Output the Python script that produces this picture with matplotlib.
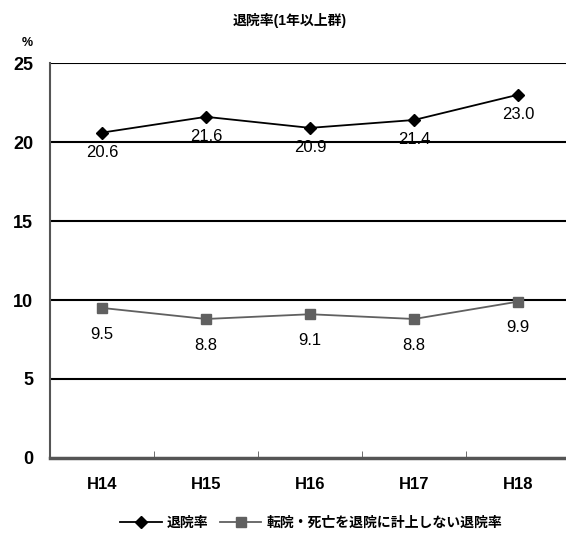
import matplotlib.pyplot as plt
from matplotlib.ticker import FixedLocator

plt.rcParams['font.family'] = ['Liberation Sans', 'Noto Sans CJK JP']

years = ['H14', 'H15', 'H16', 'H17', 'H18']
rate = [20.6, 21.6, 20.9, 21.4, 23.0]
rate_excl = [9.5, 8.8, 9.1, 8.8, 9.9]
yticks = [0, 5, 10, 15, 20, 25]

fig = plt.figure(figsize=(5.66, 5.35), dpi=100)
ax = fig.add_axes([0.0883, 0.144, 0.9117, 0.738])

xs = list(range(len(years)))
for y in yticks[1:]:
    ax.axhline(y, color='black', lw=1.5, zorder=1)

ax.plot(xs, rate, color='black', lw=1.3, marker='D', markersize=6,
        label='退院率', zorder=3)
ax.plot(xs, rate_excl, color='#606060', lw=1.3, marker='s', markersize=7,
        label='転院・死亡を退院に計上しない退院率', zorder=3)

for x, v in zip(xs, rate):
    ax.annotate(f'{v:.1f}', (x, v), xytext=(0, -14), textcoords='offset points',
                ha='center', va='center', fontsize=12)
for x, v in zip(xs, rate_excl):
    ax.annotate(f'{v:.1f}', (x, v), xytext=(0, -19), textcoords='offset points',
                ha='center', va='center', fontsize=12)

ax.set_xlim(-0.5, 4.46)
ax.set_ylim(0, 25)
ax.set_yticks(yticks)
ax.set_xticks(xs)
ax.set_xticklabels(years)
ax.xaxis.set_minor_locator(FixedLocator([0.5, 1.5, 2.5, 3.5]))
ax.tick_params(axis='x', which='major', length=0, pad=14, labelsize=12)
ax.tick_params(axis='x', which='minor', direction='in', length=5, color='#555555')
ax.tick_params(axis='y', length=0, pad=12, labelsize=13)
for lbl in ax.get_xticklabels() + ax.get_yticklabels():
    lbl.set_fontweight('bold')

for s in ['top', 'right']:
    ax.spines[s].set_visible(False)
ax.spines['left'].set_color('#555555')
ax.spines['left'].set_linewidth(1.5)
ax.spines['bottom'].set_color('#555555')
ax.spines['bottom'].set_linewidth(2.5)

fig.text(0.512, 0.962, '退院率(1年以上群)', ha='center', va='center',
         fontsize=10, fontweight='bold')
fig.text(0.048, 0.92, '%', ha='center', va='center', fontsize=9, fontweight='bold')

fig.legend(loc='center', bbox_to_anchor=(0.55, 0.023), ncol=2, frameon=False,
           handlelength=3, columnspacing=0.8, handletextpad=0.4,
           prop={'weight': 'bold', 'size': 10})

fig.savefig('out.png', dpi=100)
